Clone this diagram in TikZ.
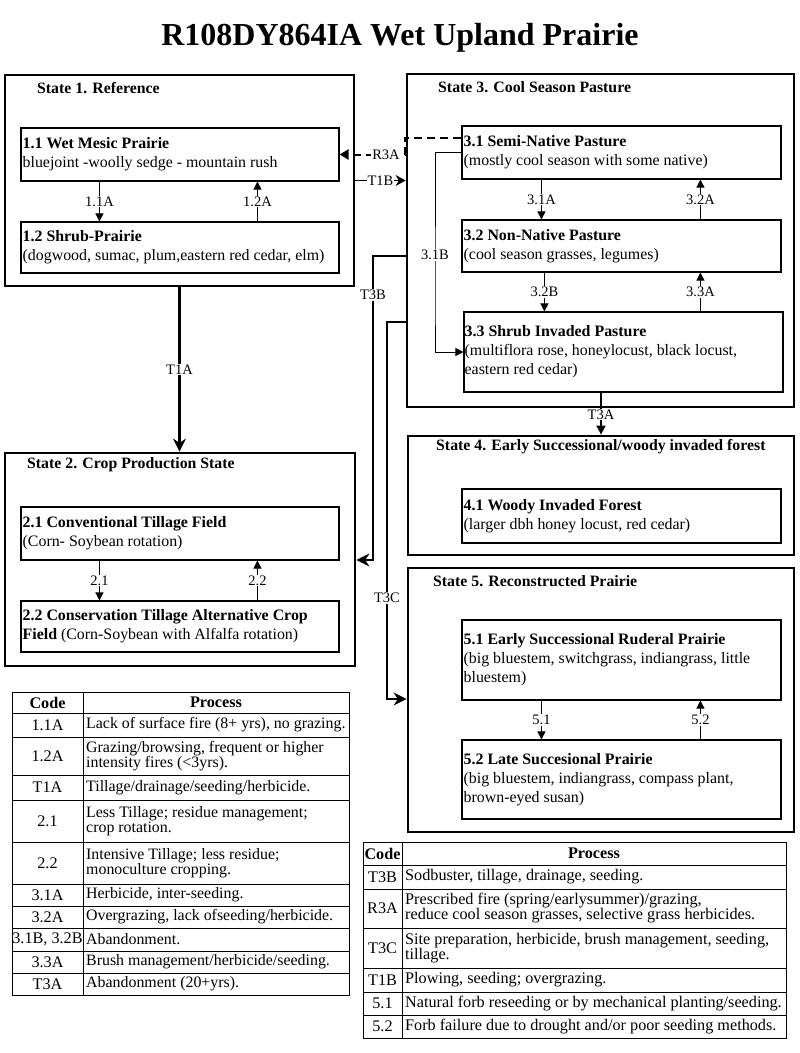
\documentclass[tikz,border=0pt]{standalone}
\usepackage{fontspec}
\setmainfont{Liberation Serif}
\usetikzlibrary{arrows.meta,calc}
\begin{document}
\begin{tikzpicture}[x=1pt,y=-1pt,
  statebox/.style={draw, line width=2.8pt, inner sep=0pt},
  subbox/.style={draw, line width=1.1pt, inner sep=0pt},
  subtext/.style={anchor=west, align=left, inner sep=0pt, font=\fontsize{15.9}{19}\selectfont},
  statetitle/.style={anchor=west, inner sep=0pt, font=\fontsize{15.8}{19}\selectfont\bfseries},
  trlabel/.style={fill=white, inner sep=1pt, font=\fontsize{14.5}{16}\selectfont},
  inarrow/.style={line width=0.9pt, -{Triangle[length=8pt,width=8pt]}},
  bigarrow/.style={line width=2.8pt, line join=miter, -{Stealth[length=13pt,width=13pt]}},
  medarrow/.style={line width=1.8pt, -{Triangle[length=9pt,width=9pt]}},
  tline/.style={line width=1pt},
  tcode/.style={inner sep=0pt, font=\fontsize{16.2}{15}\selectfont},
  tproc/.style={anchor=west, align=left, inner sep=0pt, font=\fontsize{16.2}{15}\selectfont},
  ltproc/.style={anchor=west, align=left, inner sep=0pt, font=\fontsize{15.9}{15}\selectfont},
  thead/.style={inner sep=0pt, font=\fontsize{16.2}{15}\selectfont\bfseries}
]
\useasboundingbox (0,0) rectangle (800,1053);

% title
\node[font=\fontsize{32}{36}\selectfont\bfseries] (title) at (400,38) {R108DY864IA Wet Upland Prairie};

% state boxes
\node[statebox, minimum width=349pt, minimum height=211pt] (s1) at (179.5,180.5) {};
\node[statebox, minimum width=387pt, minimum height=333pt] (s3) at (600.5,240.5) {};
\node[statebox, minimum width=350pt, minimum height=213pt] (s2) at (180,559.5) {};
\node[statebox, minimum width=386pt, minimum height=119pt] (s4) at (601,495.5) {};
\node[statebox, minimum width=386pt, minimum height=264pt] (s5) at (601,700) {};

\node[statetitle] (t1) at (37,88) {State 1. Reference};
\node[statetitle] (t3) at (438,87) {State 3. Cool Season Pasture};
\node[statetitle] (t2) at (27,465) {State 2. Crop Production State};
\node[statetitle] (t4) at (436,447) {State 4. Early Successional/woody invaded forest};
\node[statetitle] (t5) at (433,581) {State 5. Reconstructed Prairie};

% sub boxes
\node[subbox, minimum width=318pt, minimum height=53pt] (b11) at (180,154.5) {};
\node[subbox, minimum width=318pt, minimum height=51pt] (b12) at (180,247.5) {};
\node[subbox, minimum width=318pt, minimum height=53pt] (b21) at (180,533.5) {};
\node[subbox, minimum width=318pt, minimum height=51pt] (b22) at (180,626.5) {};
\node[subbox, minimum width=319pt, minimum height=53pt] (b31) at (621.5,152.5) {};
\node[subbox, minimum width=319pt, minimum height=52pt] (b32) at (621.5,246) {};
\node[subbox, minimum width=319pt, minimum height=80pt] (b33) at (623.5,352) {};
\node[subbox, minimum width=319pt, minimum height=54pt] (b41) at (621.5,516) {};
\node[subbox, minimum width=319pt, minimum height=80pt] (b51) at (621.5,660) {};
\node[subbox, minimum width=319pt, minimum height=79pt] (b52) at (621.5,779.5) {};

\node[subtext] (x11) at ([xshift=2pt]b11.west) {\textbf{1.1 Wet Mesic Prairie}\\bluejoint -woolly sedge - mountain rush};
\node[subtext] (x12) at ([xshift=2pt]b12.west) {\textbf{1.2 Shrub-Prairie}\\(dogwood, sumac, plum,eastern red cedar, elm)};
\node[subtext] (x21) at ([xshift=2pt]b21.west) {\textbf{2.1 Conventional Tillage Field}\\(Corn- Soybean rotation)};
\node[subtext] (x22) at ([xshift=2pt]b22.west) {\textbf{2.2 Conservation Tillage Alternative Crop}\\\textbf{Field} (Corn-Soybean with Alfalfa rotation)};
\node[subtext] (x31) at ([xshift=2pt]b31.west) {\textbf{3.1 Semi-Native Pasture}\\(mostly cool season with some native)};
\node[subtext] (x32) at ([xshift=2pt]b32.west) {\textbf{3.2 Non-Native Pasture}\\(cool season grasses, legumes)};
\node[subtext] (x33) at ([xshift=1pt]b33.west) {\textbf{3.3 Shrub Invaded Pasture}\\(multiflora rose, honeylocust, black locust,\\eastern red cedar)};
\node[subtext] (x41) at ([xshift=2pt]b41.west) {\textbf{4.1 Woody Invaded Forest}\\(larger dbh honey locust, red cedar)};
\node[subtext] (x51) at ([xshift=2pt]b51.west) {\textbf{5.1 Early Successional Ruderal Prairie}\\(big bluestem, switchgrass, indiangrass, little\\bluestem)};
\node[subtext] (x52) at ([xshift=2pt]b52.west) {\textbf{5.2 Late Succesional Prairie}\\(big bluestem, indiangrass, compass plant,\\brown-eyed susan)};

% inner transitions
\draw[inarrow] ([xshift=79pt]b11.south west) -- ([xshift=79pt]b12.north west) node[trlabel, midway] {1.1A};
\draw[inarrow] ([xshift=237pt]b12.north west) -- ([xshift=237pt]b11.south west) node[trlabel, midway] {1.2A};
\draw[inarrow] ([xshift=79pt]b21.south west) -- ([xshift=79pt]b22.north west) node[trlabel, midway] {2.1};
\draw[inarrow] ([xshift=237pt]b22.north west) -- ([xshift=237pt]b21.south west) node[trlabel, midway] {2.2};
\draw[inarrow] ([xshift=80pt]b31.south west) -- ([xshift=80pt]b32.north west) node[trlabel, midway] {3.1A};
\draw[inarrow] ([xshift=239pt]b32.north west) -- ([xshift=239pt]b31.south west) node[trlabel, midway] {3.2A};
\draw[inarrow] ([xshift=83pt]b32.south west) -- ([xshift=81pt]b33.north west) node[trlabel, midway] {3.2B};
\draw[inarrow] ([xshift=237pt]b33.north west) -- ([xshift=239pt]b32.south west) node[trlabel, midway] {3.3A};
\draw[inarrow] ([xshift=80pt]b51.south west) -- ([xshift=80pt]b52.north west) node[trlabel, midway] {5.1};
\draw[inarrow] ([xshift=239pt]b52.north west) -- ([xshift=239pt]b51.south west) node[trlabel, midway] {5.2};

% 3.1B
\coordinate (c31b) at (435,300);
\draw[inarrow] (b31.west) -| (c31b) |- (b33.west);
\node[trlabel] (l31b) at (435,255) {3.1B};

% R3A dashed
\coordinate (r3a) at (405,154.5);
\draw[line width=2pt, dash pattern=on 8pt off 5pt, -{Triangle[length=9pt,width=10pt]}]
  ([yshift=14.5pt]b31.west) -| (r3a) -- node[trlabel, pos=0.29] {R3A} (b11.east);

% T1B
\draw[line width=1.6pt, -{Stealth[length=10pt,width=11pt]}] (s1.east) -- node[trlabel, midway] {T1B} (s1.east -| s3.west);

% T1A
\draw[bigarrow] (s1.south) -- node[trlabel, midway] {T1A} (s1.south |- s2.north);

% T3A
\draw[medarrow] (s4.north |- b33.south) -- node[trlabel, pos=0.52, inner sep=0.5pt] {T3A} (s4.north);

% T3B
\coordinate (t3b1) at (373,256);
\coordinate (t3b2) at (373,560);
\draw[bigarrow] (s3.west |- t3b1) -- (t3b1) -- (t3b2) -- (s2.east |- t3b2);
\node[trlabel] (l3b) at (373,295) {T3B};

% T3C
\coordinate (t3c1) at (387,322);
\coordinate (t3c2) at (387,699);
\draw[bigarrow] (s3.west |- t3c1) -- (t3c1) -- (t3c2) -- (s5.west |- t3c2);
\node[trlabel] (l3c) at (387,598) {T3C};

% left table
\draw[tline] (12,692) rectangle (349,995);
\draw[tline] (83,692) -- (83,995);
\foreach \yy in {713,737,775,800,842,884,906,928,951,973} \draw[tline] (12,\yy) -- (349,\yy);
\node[thead] (lh1) at (47.5,702.5) {Code};
\node[thead] (lh2) at (216,702.5) {Process};
\node[tcode] (lc1) at (47.5,725) {1.1A};
\node[ltproc] (lp1) at (86,725) {Lack of surface fire (8+ yrs), no grazing.};
\node[tcode] (lc2) at (47.5,756) {1.2A};
\node[ltproc] (lp2) at (86,756) {Grazing/browsing, frequent or higher\\intensity fires (<3yrs).};
\node[tcode] (lc3) at (47.5,787.5) {T1A};
\node[ltproc] (lp3) at (86,787.5) {Tillage/drainage/seeding/herbicide.};
\node[tcode] (lc4) at (47.5,821) {2.1};
\node[ltproc] (lp4) at (86,821) {Less Tillage; residue management;\\crop rotation.};
\node[tcode] (lc5) at (47.5,863) {2.2};
\node[ltproc] (lp5) at (86,863) {Intensive Tillage; less residue;\\monoculture cropping.};
\node[tcode] (lc6) at (47.5,895) {3.1A};
\node[ltproc] (lp6) at (86,895) {Herbicide, inter-seeding.};
\node[tcode] (lc7) at (47.5,917) {3.2A};
\node[ltproc] (lp7) at (86,917) {Overgrazing, lack ofseeding/herbicide.};
\node[tcode] (lc8) at (47.5,939.5) {3.1B, 3.2B};
\node[ltproc] (lp8) at (86,939.5) {Abandonment.};
\node[tcode] (lc9) at (47.5,962) {3.3A};
\node[ltproc] (lp9) at (86,962) {Brush management/herbicide/seeding.};
\node[tcode] (lc10) at (47.5,984) {T3A};
\node[ltproc] (lp10) at (86,984) {Abandonment (20+yrs).};

% right table
\draw[tline] (363,842) rectangle (786,1038);
\draw[tline] (402,842) -- (402,1038);
\foreach \yy in {865,889,928,968,992,1015} \draw[tline] (363,\yy) -- (786,\yy);
\node[thead] (rh1) at (382.5,853.5) {Code};
\node[thead] (rh2) at (594,853.5) {Process};
\node[tcode] (rc1) at (382.5,877) {T3B};
\node[tproc] (rp1) at (405,877) {Sodbuster, tillage, drainage, seeding.};
\node[tcode] (rc2) at (382.5,908.5) {R3A};
\node[tproc] (rp2) at (405,908.5) {Prescribed fire (spring/earlysummer)/grazing,\\reduce cool season grasses, selective grass herbicides.};
\node[tcode] (rc3) at (382.5,948) {T3C};
\node[tproc] (rp3) at (405,948) {Site preparation, herbicide, brush management, seeding,\\tillage.};
\node[tcode] (rc4) at (382.5,980) {T1B};
\node[tproc] (rp4) at (405,980) {Plowing, seeding; overgrazing.};
\node[tcode] (rc5) at (382.5,1003.5) {5.1};
\node[tproc] (rp5) at (405,1003.5) {Natural forb reseeding or by mechanical planting/seeding.};
\node[tcode] (rc6) at (382.5,1026.5) {5.2};
\node[tproc] (rp6) at (405,1026.5) {Forb failure due to drought and/or poor seeding methods.};
\end{tikzpicture}
\end{document}
